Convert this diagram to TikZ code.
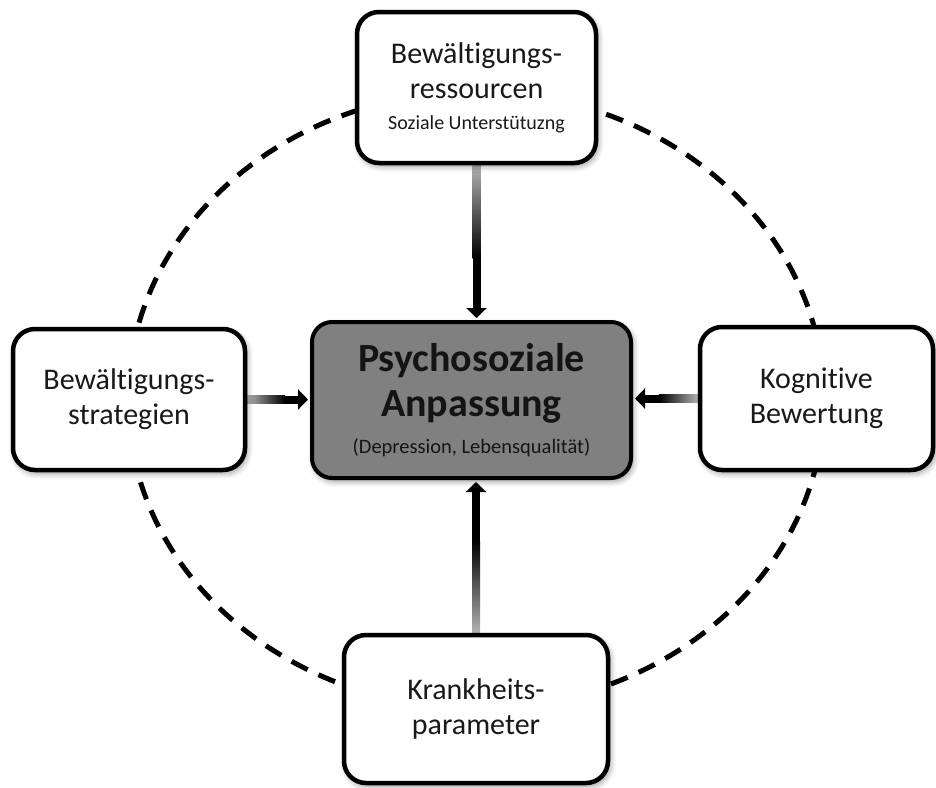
\documentclass[tikz,border=0pt]{standalone}
\usepackage{fontspec}
\setmainfont{Carlito}[Ligatures=NoCommon]
\usetikzlibrary{arrows.meta,shadows.blur,backgrounds,calc}
\begin{document}
\begin{tikzpicture}[x=1pt,y=-1pt,
  boxshadow/.style={blur shadow={shadow xshift=2pt, shadow yshift=-3pt, shadow blur radius=6pt, shadow opacity=45}},
  box/.style={draw=black, line width=4.5pt, rounded corners=22pt, fill=white,
    align=center, inner sep=0pt, text=black!90,
    font=\fontsize{30}{35}\selectfont, boxshadow},
  centerbox/.style={draw=black, line width=4pt, rounded corners=20pt, fill=black!50,
    align=center, inner sep=0pt, text=black!92,
    font=\fontsize{40}{45}\selectfont\bfseries, boxshadow},
  ringline/.style={draw=black, line width=5pt, dash pattern=on 18pt off 12pt},
  flow/.style={draw=black, line width=8pt, shorten >=2pt,
    -{Triangle[length=10pt,width=20pt]}},
]
\useasboundingbox (0,0) rectangle (936,787);

% nodes
\node[box, minimum width=239pt, minimum height=151pt] (top) at (476.5,87.5)
  {Bewältigungs-\\ressourcen\\[-4pt]{\fontsize{20}{24}\selectfont Soziale Unterstütuzng}};
\node[box, minimum width=232pt, minimum height=141pt] (left) at (129,399.5)
  {Bewältigungs-\\strategien};
\node[box, minimum width=233pt, minimum height=143pt] (right) at (816.5,398.5)
  {Kognitive\\Bewertung};
\node[box, minimum width=264pt, minimum height=148pt] (bot) at (476,709)
  {Krankheits-\\parameter};
\node[centerbox, minimum width=319pt, minimum height=156pt] (mid) at (471.5,400)
  {Psychosoziale\\Anpassung\\[-8pt]{\fontsize{20.5}{24}\selectfont\mdseries (Depression, Lebensqualität)}};

\begin{pgfonlayer}{background}
  \coordinate (ringc) at (476,400);
  \draw[ringline] (ringc) ellipse [x radius=348, y radius=308];

  % connectors
  \draw[flow] (top.south) -- (top.south |- mid.north);
  \draw[flow] (bot.north) -- (bot.north |- mid.south);
  \draw[flow] (left.east) -- (left.east -| mid.west);
  \draw[flow] (right.west) -- (right.west -| mid.east);

  % gradient overlays on the shafts
  \shade[top color=black!30, bottom color=black]
    ($(top.south)+(-4,0)$) rectangle ($(top.south)!0.6!(top.south |- mid.north)+(4,0)$);
  \shade[top color=black, bottom color=black!30]
    ($(bot.north)!0.6!(bot.north |- mid.south)+(-4,0)$) rectangle ($(bot.north)+(4,0)$);
  \shade[left color=black!30, right color=black]
    ($(left.east)+(0,-4)$) rectangle ($(left.east)!0.6!(left.east -| mid.west)+(0,4)$);
  \shade[left color=black, right color=black!30]
    ($(right.west)!0.6!(right.west -| mid.east)+(0,-4)$) rectangle ($(right.west)+(0,4)$);
\end{pgfonlayer}
\end{tikzpicture}
\end{document}
